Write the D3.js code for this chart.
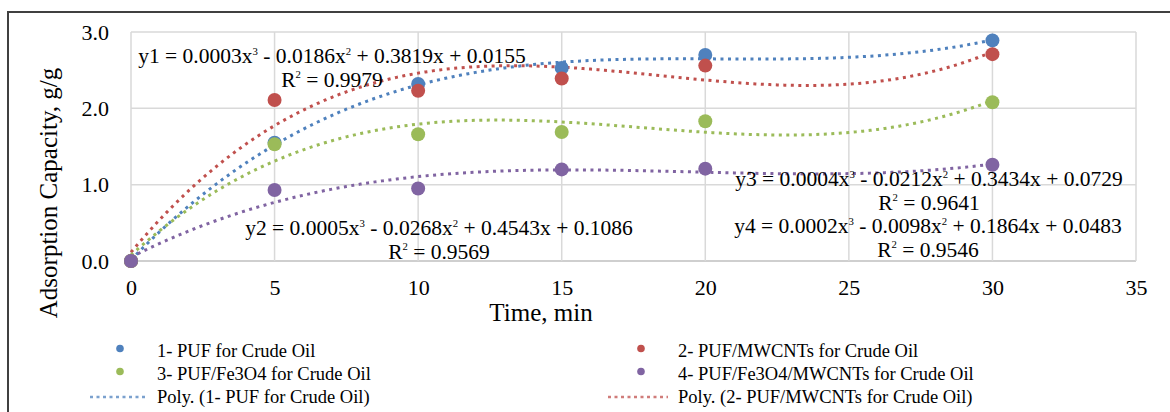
<!DOCTYPE html>
<html>
<head>
<meta charset="utf-8">
<script src="https://cdn.jsdelivr.net/npm/d3@7"></script>
<style>
  html, body { margin: 0; padding: 0; background: #fff; }
  svg { display: block; font-family: "Liberation Serif", "Times New Roman", serif; }
</style>
</head>
<body>
<svg id="chart" width="1170" height="412"></svg>
<script>
// Sampling times (min)
const times = [0, 5, 10, 15, 20, 30];

// Adsorption capacity (g/g) for each foam
const pufCrude = [0, 1.55, 2.32, 2.53, 2.70, 2.89];
const pufMwcntCrude = [0, 2.11, 2.23, 2.39, 2.56, 2.71];
const pufFe3o4Crude = [0, 1.53, 1.66, 1.69, 1.83, 2.08];
const pufFe3o4MwcntCrude = [0, 0.93, 0.95, 1.20, 1.21, 1.26];

const seriesNames = [
  "1- PUF for Crude Oil",
  "2- PUF/MWCNTs for Crude Oil",
  "3- PUF/Fe3O4 for Crude Oil",
  "4- PUF/Fe3O4/MWCNTs for Crude Oil"
];
const seriesColors = ["#4F81BD", "#C0504D", "#9BBB59", "#8064A2"];

const xTicks = [0, 5, 10, 15, 20, 25, 30, 35];
const yTicks = [0, 1, 2, 3];

// Trendline equation labels
const equationLines = [
  ["y1 = 0.0003x\u00B3 - 0.0186x\u00B2 + 0.3819x + 0.0155", "R\u00B2 = 0.9979"],
  ["y2 = 0.0005x\u00B3 - 0.0268x\u00B2 + 0.4543x + 0.1086", "R\u00B2 = 0.9569"],
  ["y3 = 0.0004x\u00B3 - 0.0212x\u00B2 + 0.3434x + 0.0729", "R\u00B2 = 0.9641"],
  ["y4 = 0.0002x\u00B3 - 0.0098x\u00B2 + 0.1864x + 0.0483", "R\u00B2 = 0.9546"]
];

const series = [pufCrude, pufMwcntCrude, pufFe3o4Crude, pufFe3o4MwcntCrude];

// Least-squares polynomial fit (order 3) for the trendlines
function polyFit(xs, ys, order) {
  const n = order + 1;
  const A = Array.from({length: n}, () => new Array(n + 1).fill(0));
  for (let r = 0; r < n; r++) {
    for (let c = 0; c < n; c++) {
      A[r][c] = d3.sum(xs, x => Math.pow(x, r + c));
    }
    A[r][n] = d3.sum(xs.map((x, i) => ys[i] * Math.pow(x, r)));
  }
  for (let i = 0; i < n; i++) {
    let p = i;
    for (let k = i + 1; k < n; k++) if (Math.abs(A[k][i]) > Math.abs(A[p][i])) p = k;
    [A[i], A[p]] = [A[p], A[i]];
    for (let k = i + 1; k < n; k++) {
      const f = A[k][i] / A[i][i];
      for (let c = i; c <= n; c++) A[k][c] -= f * A[i][c];
    }
  }
  const coef = new Array(n).fill(0);
  for (let i = n - 1; i >= 0; i--) {
    let s = A[i][n];
    for (let c = i + 1; c < n; c++) s -= A[i][c] * coef[c];
    coef[i] = s / A[i][i];
  }
  return x => coef.reduce((acc, a, k) => acc + a * Math.pow(x, k), 0);
}

const svg = d3.select("#chart");

// Outer chart frame
svg.append("rect")
  .attr("x", 8).attr("y", 12)
  .attr("width", 1200).attr("height", 500)
  .attr("fill", "#fff")
  .attr("stroke", "#404040")
  .attr("stroke-width", 2);

const x = d3.scaleLinear().domain([0, 35]).range([131, 1136]);
const y = d3.scaleLinear().domain([0, 3]).range([261, 32]);

// Gridlines
const grid = svg.append("g");
grid.selectAll("line.h").data(yTicks).join("line")
  .attr("x1", x(0)).attr("x2", x(35))
  .attr("y1", d => y(d)).attr("y2", d => y(d))
  .attr("stroke", d => d === 0 ? "#bfbfbf" : "#d9d9d9")
  .attr("stroke-width", 1.5);
grid.selectAll("line.v").data(xTicks).join("line")
  .attr("y1", y(0)).attr("y2", y(3))
  .attr("x1", d => x(d)).attr("x2", d => x(d))
  .attr("stroke", "#d9d9d9")
  .attr("stroke-width", 1.5);

// Axes (labels only)
const xAxis = svg.append("g")
  .attr("transform", `translate(0,${y(0)})`)
  .call(d3.axisBottom(x).tickValues(xTicks).tickSize(0).tickPadding(18).tickFormat(d3.format("d")));
xAxis.select(".domain").remove();
xAxis.selectAll("text")
  .attr("font-family", "Liberation Serif")
  .attr("font-size", 22)
  .attr("fill", "#000");

const yAxis = svg.append("g")
  .attr("transform", `translate(${x(0)},0)`)
  .call(d3.axisLeft(y).tickValues(yTicks).tickSize(0).tickPadding(22).tickFormat(d3.format(".1f")));
yAxis.select(".domain").remove();
yAxis.selectAll("text")
  .attr("font-family", "Liberation Serif")
  .attr("font-size", 22)
  .attr("fill", "#000");

// Axis titles
svg.append("text")
  .attr("x", 541).attr("y", 321)
  .attr("text-anchor", "middle")
  .attr("font-size", 25)
  .text("Time, min");

svg.append("text")
  .attr("transform", "translate(57,193) rotate(-90)")
  .attr("text-anchor", "middle")
  .attr("font-size", 25)
  .text("Adsorption Capacity, g/g");

// Trendlines
const curveX = d3.range(0, 30.001, 0.25);
const line = d3.line().x(d => x(d[0])).y(d => y(d[1])).curve(d3.curveLinear);
series.forEach((vals, i) => {
  const f = polyFit(times, vals, 3);
  svg.append("path")
    .datum(curveX.map(t => [t, f(t)]))
    .attr("d", line)
    .attr("fill", "none")
    .attr("stroke", seriesColors[i])
    .attr("stroke-width", 3)
    .attr("stroke-dasharray", "3 4.5");
});

// Data points
series.forEach((vals, i) => {
  svg.append("g").selectAll("circle").data(times.map((t, k) => [t, vals[k]])).join("circle")
    .attr("cx", d => x(d[0]))
    .attr("cy", d => y(d[1]))
    .attr("r", 7)
    .attr("fill", seriesColors[i]);
});

// Equation labels, with small raised exponents
const labelPos = [
  {cx: 332, y: 63},
  {cx: 439, y: 235},
  {cx: 929, y: 186},
  {cx: 928, y: 233}
];
const eqSize = 21.5;
function writeLine(textSel, str, cx, yPos) {
  const parts = str.split(/([\u00B2\u00B3])/).filter(s => s.length);
  let first = true;
  let raised = false;
  parts.forEach(p => {
    const isSup = p === "\u00B2" || p === "\u00B3";
    const ts = textSel.append("tspan");
    if (first) { ts.attr("x", cx).attr("y", yPos); first = false; }
    if (isSup) {
      ts.attr("font-size", eqSize * 0.5).attr("dy", -eqSize * 0.38)
        .text(p === "\u00B2" ? "2" : "3");
      raised = true;
    } else {
      if (raised) { ts.attr("dy", eqSize * 0.38); raised = false; }
      ts.text(p);
    }
  });
}
equationLines.forEach((lines, i) => {
  lines.forEach((s, k) => {
    const t = svg.append("text")
      .attr("text-anchor", "middle")
      .attr("font-size", eqSize)
      .attr("fill", "#000");
    writeLine(t, s, labelPos[i].cx, labelPos[i].y + k * 23.5);
  });
});

// Legend
const legendItems = [
  {type: "dot", color: seriesColors[0], label: seriesNames[0], col: 0, row: 0},
  {type: "dot", color: seriesColors[1], label: seriesNames[1], col: 1, row: 0},
  {type: "dot", color: seriesColors[2], label: seriesNames[2], col: 0, row: 1},
  {type: "dot", color: seriesColors[3], label: seriesNames[3], col: 1, row: 1},
  {type: "line", color: seriesColors[0], label: "Poly. (" + seriesNames[0] + ")", col: 0, row: 2},
  {type: "line", color: seriesColors[1], label: "Poly. (" + seriesNames[1] + ")", col: 1, row: 2}
];
const colX = [{mark: 120, lineFrom: 90, lineTo: 148, text: 157}, {mark: 641, lineFrom: 608, lineTo: 668, text: 678}];
const rowBase = [357, 380, 403];
const legend = svg.append("g");
legendItems.forEach(it => {
  const c = colX[it.col];
  const by = rowBase[it.row];
  if (it.type === "dot") {
    legend.append("circle")
      .attr("cx", c.mark).attr("cy", by - 8.5).attr("r", 3.8)
      .attr("fill", it.color);
  } else {
    legend.append("line")
      .attr("x1", c.lineFrom).attr("x2", c.lineTo)
      .attr("y1", by - 6).attr("y2", by - 6)
      .attr("stroke", it.color)
      .attr("stroke-opacity", 0.75)
      .attr("stroke-width", 2.5)
      .attr("stroke-dasharray", "3 3.5");
  }
  legend.append("text")
    .attr("x", c.text).attr("y", by)
    .attr("font-size", 18.5)
    .attr("fill", "#000")
    .text(it.label);
});
</script>
</body>
</html>
